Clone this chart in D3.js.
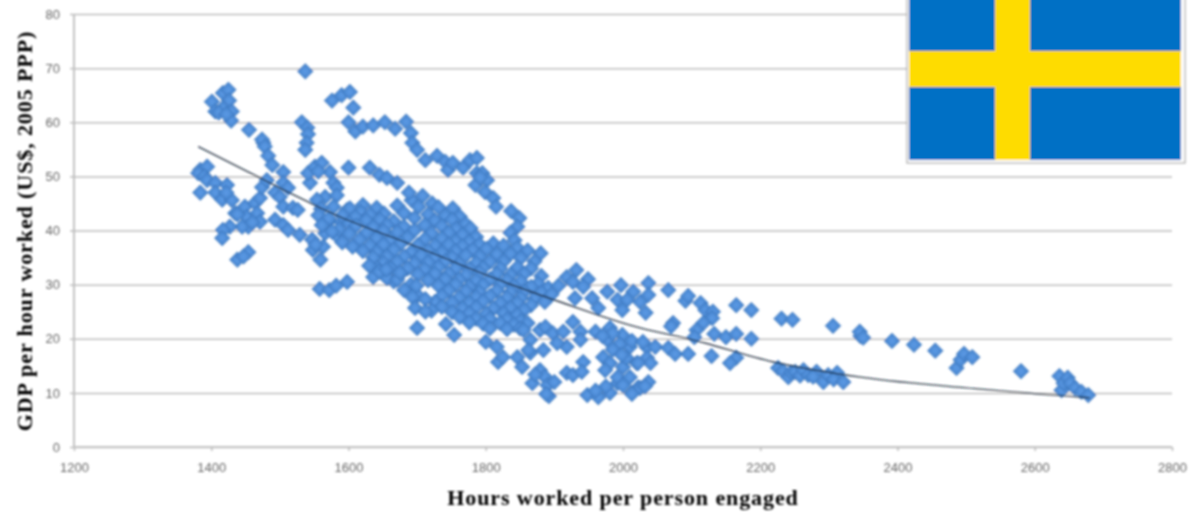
<!doctype html>
<html lang="en">
<head>
<meta charset="UTF-8" />
<title>Sweden: GDP per hour vs hours worked</title>
<script src="https://d3js.org/d3.v7.min.js"></script>
<style>
  html,body{margin:0;padding:0;background:#fff;}
  svg{display:block;}
  .tick text{font-family:"Liberation Sans",Arial,sans-serif;font-size:13px;fill:#666;}
  .axis-title{font-family:"Liberation Serif",serif;font-weight:bold;font-size:22px;letter-spacing:.9px;fill:#000;}
</style>
</head>
<body>
<div id="chart"></div>
<script>
/* values: [hours, gdp per hour] */
const xTicks=[1200,1400,1600,1800,2000,2200,2400,2600,2800];
const yTicks=[0,10,20,30,40,50,60,70,80];

const topLeft=[[1401,63.8],[1417,65.4],[1425,66],[1426,64],[1406,62],[1417,62.6],[1411,61.8],[1430,62],[1429,60.3],[1422,61.5],[1455,58.6],
  [1476,56.2],[1474,56.8],[1478,55.5],[1483,53.8],[1489,52.1],[1505,50.8],[1537,69.4],[1532,60],[1540,59],[1541,57.8],[1539,56.2],[1537,54.9]];
const upperBand=[[1576,64],[1590,65],[1602,65.6],[1607,62.7],[1600,60],[1610,58.3],[1621,59.2],[1636,59.4],[1653,60],[1668,58.8],[1684,60.1],
  [1691,58],[1693,56.2],[1700,54.9],[1712,53],[1729,53.8],[1741,52.7],[1745,51.2],[1752,52.5],[1767,51.6],[1777,53],[1787,53.4],[1785,48.4],
  [1787,50.6],[1795,50.6],[1802,49.3],[1799,47.1],[1792,49.8],[1811,46],[1815,44.4],[1837,43.6],[1849,42.3],[1846,40.7],[1836,39.6],[1842,38.2]];
const leftArm=[[1384,51.2],[1394,51.8],[1381,50.6],[1390,50],[1394,49.3],[1384,47],[1406,48.8],[1423,48.4],[1406,47],[1416,45.7],[1430,45.6],[1422,47],
  [1435,43.2],[1449,44.4],[1464,45.1],[1471,46],[1474,48],[1481,49.3],[1493,47],[1505,48.8],[1512,47.9],[1500,46.2],[1505,44.4],[1519,44.2],[1526,43.8],
  [1452,42.5],[1467,43.2],[1471,41.6],[1454,40.7],[1445,40.7],[1427,40.7],[1417,40.1],[1416,38.6],[1438,43],[1460,41.5],[1493,42],[1505,41],[1512,40.1],
  [1529,39.2],[1547,38.3],[1563,37],[1548,36.4],[1559,34.6],[1454,36],[1438,34.6],[1447,35.2],[1552,37.4]];
const loop=[[1544,48.8],[1541,50.6],[1551,51.8],[1561,52.5],[1573,50.8],[1556,50.9],[1578,48.8],[1583,47.9],[1566,46.2],[1583,46.5],[1554,45.7],[1578,44.4],
  [1598,43.8],[1621,44.7],[1600,51.6],[1631,51.6],[1645,50.3],[1656,49.7],[1671,48.8],[1560,44],[1556,42.8],[1572,41.8],[1590,41.5],[1566,39.5],[1585,38.8]];
const mainBlob=[[1692,45.6],[1708,46.4],[1722,45],[1688,47],[1702,44.4],
  [1602,44.1],[1618,43.4],[1641,44.2],[1671,44.6],[1731,44.3],[1752,44.1],[1591,42.8],[1610,42.5],[1631,42.9],[1652,43.1],[1681,43.2],[1716,43],[1741,42.7],[1762,42.6],
  [1571,42.2],[1601,41.3],[1626,41.9],[1646,42],[1666,41.7],[1696,42.3],[1726,41.8],[1751,42],[1771,41.2],
  [1561,41],[1586,40.2],[1611,40.9],[1636,40.6],[1656,41],[1681,40.7],[1711,41],[1736,40.8],[1757,40.3],[1778,40.4],
  [1576,39.8],[1601,39.4],[1626,39.6],[1651,39.9],[1671,39.7],[1696,40],[1721,39.5],[1746,39.6],[1766,39.2],[1786,38.8],
  [1591,37.8],[1616,38.3],[1641,38.6],[1661,38.2],[1686,38.7],[1711,38.4],[1736,38.5],[1756,38],[1776,37.9],
  [1606,37],[1631,37.2],[1651,37.4],[1676,37.6],[1701,37.3],[1726,37.2],[1746,37.4],[1766,37.1],[1791,37.4],[1811,37.6],
  [1621,36.2],[1641,36],[1666,36.4],[1691,36],[1716,36.2],[1736,35.9],[1756,36.2],[1781,36.4],[1801,36.6],[1826,37.2],[1846,36.8],
  [1636,35],[1656,35.2],[1681,35.2],[1706,35.4],[1726,35],[1751,35],[1771,35.4],[1791,35.2],[1816,35.6],[1836,35.7],[1861,36.3],[1880,35.8],
  [1651,34],[1671,34.2],[1696,33.9],[1716,34.1],[1741,34.3],[1761,33.8],[1786,34],[1806,34.2],[1826,34.3],[1851,34.9],[1871,34.3],
  [1661,33],[1686,33],[1711,32.8],[1731,33.2],[1756,33],[1776,32.9],[1796,33.1],[1821,33],[1846,33.2],[1866,33],
  [1676,32],[1701,31.9],[1726,32],[1746,32],[1771,31.8],[1791,32.2],[1816,32],[1836,31.8],[1856,32],[1881,31.6],
  [1666,30.6],[1716,30.8],[1741,31],[1761,30.9],[1786,30.7],[1806,31],[1831,30.8],[1851,30.6],[1876,30.2],
  [1656,31.2],[1691,30],[1731,29.8],[1756,30],[1776,29.6],[1796,29.9],[1821,30],[1841,29.7],[1866,29.6],[1891,29.4],[1906,29.8],
  [1681,29],[1746,28.9],[1771,28.8],[1791,28.6],[1816,28.9],[1836,28.6],[1856,28.7],[1881,28.5],[1896,28.2],
  [1701,28],[1736,27.9],[1761,27.6],[1786,27.7],[1806,27.9],[1831,27.6],[1851,27.5],[1871,27.4],
  [1726,26.8],[1751,26.7],[1776,26.6],[1796,26.9],[1821,26.6],[1846,26.6],[1866,26.2],[1886,26.8],
  [1736,25.9],[1766,25.6],[1786,25.8],[1811,25.6],[1836,25.7],[1856,25.3],
  [1721,25.2],[1751,24.9],[1776,24.7],[1801,24.6],[1826,24.7],[1846,24.4],
  [1762,24],[1786,23.7],[1806,23.7],[1831,23.6],[1851,23.3],[1776,23],[1796,22.8],[1821,22.9],[1841,22.6],[1861,22.9],[1806,21.9],[1831,21.8],[1850,21.9]];
const blobEdge=[[1598,30.5],[1636,31.4],[1642,33],[1671,30.9],[1675,32.2],[1699,29.8],[1693,27.7],[1712,27.3],[1697,25.7],[1712,25],[1700,22],
  [1742,22.7],[1754,20.7],[1630,33.5],[1645,32.4],[1655,32.8],[1558,29.2],[1572,29],[1582,29.8]];
const lowerBand=[[1800,19.4],[1816,18.5],[1818,15.7],[1825,16.6],[1846,16.6],[1853,14.8],[1865,17.4],[1868,11.8],[1879,14.2],[1886,13],[1872,13.4],[1890,11.4],[1900,12],
  [1892,9.4],[1918,13.7],[1927,13.3],[1942,15.7],[1940,13.9],[1948,9.6],[1964,9.2],[1981,10],[1992,11.8],[2013,10],[2022,11],[1888,9.8],
  [1855,21.6],[1865,19.8],[1879,21.6],[1887,22.2],[1898,21],[1913,21.3],[1927,23.1],[1938,21.3],[1938,19.8],[1918,18.5],[1904,19.2],[1884,17.9],[1862,17.9],
  [1960,21.3],[1981,22],[1999,20.7],[2010,18.5],[1977,19.8],[1971,16.6],[1981,15.5],[2000,14.8],[1974,14.2],[1992,12.9],[2010,12.9],[2020,15.5],
  [1985,21],[1970,20.5],[1995,19],[2005,16.5],[1985,18],[1998,17],[2013,19.6],[2035,18.4],[2029,19.4],[2047,18.5],[2035,16.5],[2040,15.5],[2022,15.5],
  [2037,12],[2025,10.9],[2013,9.8],[2032,11.2],[2000,11.4],[1975,11.2],[1960,10.4]];
const middleBand=[[1918,31.4],[1932,32.7],[1927,30.5],[1949,31],[1942,29.6],[1930,27.5],[1955,27.5],[1964,25.7],[1977,28.7],[1997,29.9],[2015,28.7],[1992,27.2],
  [2006,27.2],[1999,25.3],[2025,26.8],[2037,30.3],[2037,28.1],[2033,24.8],[2066,29],[2073,22.9],[2070,22.3],[2091,27],[2095,27.9],[2113,26.6],[2120,25.3],[2131,25],
  [2130,23.8],[2117,22.9],[2107,21.6],[2104,20.3],[2133,20.9],[2150,20.3],[2165,20.9],[2187,20],[2165,26.2],[2187,25.3],[2231,23.7],[2247,23.5],[2306,22.4],
  [2066,18.3],[2076,17.2],[2095,17.2],[2129,16.8],[2165,16.5],[2156,15.5]];
const lowRun=[[2226,14.6],[2233,14],[2241,12.9],[2245,13.8],[2251,13.9],[2258,13.2],[2263,14.2],[2270,13.3],[2282,13.9],[2277,13],[2292,12],[2299,13.3],[2312,13.7],[2307,12.5],[2321,12]];
const rightTail=[[2346,20.5],[2345,21.3],[2350,20.2],[2392,19.6],[2424,18.9],[2455,17.8],[2486,14.6],[2492,16.1],[2497,17.2],[2509,16.6],[2580,14],
  [2636,13.1],[2639,10.5],[2642,11.8],[2648,12.8],[2652,11.8],[2659,10.9],[2668,10.2],[2678,9.6]];

const trendHours=[1381,1471,1544,1588,1685,1831,1913,2025,2102,2219,2346,2520,2680];
const trendGdp=[55.5,49.7,45.1,42.5,37.7,30.3,26.6,22,19.8,15.7,12.9,10.7,9.1];

const points=[].concat(topLeft,upperBand,leftArm,loop,mainBlob,blobEdge,lowerBand,middleBand,lowRun,rightTail);

const W=1192,H=512,x0=74,x1=1172,y0=447,y1=14;
const x=d3.scaleLinear().domain([1200,2800]).range([x0,x1]);
const y=d3.scaleLinear().domain([0,80]).range([y0,y1]);

const svg=d3.select('#chart').append('svg').attr('width',W).attr('height',H);
const defs=svg.append('defs');
defs.append('filter').attr('id','soft').attr('filterUnits','userSpaceOnUse')
    .attr('x',-10).attr('y',-10).attr('width',W+20).attr('height',H+20)
    .append('feGaussianBlur').attr('stdDeviation',0.85);
const grad=defs.append('radialGradient').attr('id','mark');
grad.append('stop').attr('offset','0%').attr('stop-color','#5d9be6');
grad.append('stop').attr('offset','100%').attr('stop-color','#4a88d2');

const g=svg.append('g').attr('filter','url(#soft)');

/* gridlines + axes */
const gy=g.append('g').attr('transform',`translate(${x0},0)`)
  .call(d3.axisLeft(y).tickValues(yTicks).tickSize(4).tickPadding(10));
gy.selectAll('.tick line').clone().attr('x1',0).attr('x2',x1-x0).attr('stroke','#cfcfcf').attr('stroke-width',2);
gy.selectAll('.tick line').attr('stroke','#bdbdbd').attr('stroke-width',1.5);
gy.select('.domain').attr('stroke','#bdbdbd').attr('stroke-width',1.8).attr('d',`M0,${y1}V${y0}`);

const gx=g.append('g').attr('transform',`translate(0,${y0})`)
  .call(d3.axisBottom(x).tickValues(xTicks).tickFormat(d3.format('d')).tickSize(4).tickPadding(12));
gx.selectAll('.tick line').attr('stroke','#bdbdbd').attr('stroke-width',1.5);
gx.select('.domain').attr('stroke','#c4c4c4').attr('stroke-width',2).attr('d',`M${x0},0H${x1}`);

/* points */
const diamond=d3.symbol().type(d3.symbolSquare).size(124);
g.append('g').selectAll('path').data(points).join('path')
  .attr('d',diamond)
  .attr('transform',d=>`translate(${x(d[0])},${y(d[1])}) rotate(45)`)
  .attr('fill','url(#mark)')
  .attr('stroke','#2f66a8').attr('stroke-opacity',.55).attr('stroke-width',.9);

/* trend */
const line=d3.line().x(d=>x(d[0])).y(d=>y(d[1])).curve(d3.curveMonotoneX);
g.append('path').attr('d',line(trendHours.map((h,i)=>[h,trendGdp[i]])))
  .attr('fill','none').attr('stroke','#1b2838').attr('stroke-opacity',.9).attr('stroke-width',1.4);

/* titles */
g.append('text').attr('class','axis-title').attr('x',623).attr('y',505).attr('text-anchor','middle')
  .text('Hours worked per person engaged');
g.append('text').attr('class','axis-title')
  .attr('transform','translate(32,231) rotate(-90)').attr('text-anchor','middle')
  .text('GDP per hour worked (US$, 2005 PPP)');

/* Swedish flag inset */
const flag=g.append('g');
flag.append('rect').attr('x',907).attr('y',-6).attr('width',278).attr('height',169)
    .attr('fill','#fff').attr('stroke','#a8a8a8').attr('stroke-width',1.2);
flag.append('rect').attr('x',909).attr('y',-6).attr('width',272).attr('height',166).attr('fill','#006fc5');
flag.append('rect').attr('x',995).attr('y',-6).attr('width',35).attr('height',166).attr('fill','#fedc00');
flag.append('rect').attr('x',909).attr('y',51).attr('width',272).attr('height',36).attr('fill','#fedc00');
</script>
</body>
</html>
